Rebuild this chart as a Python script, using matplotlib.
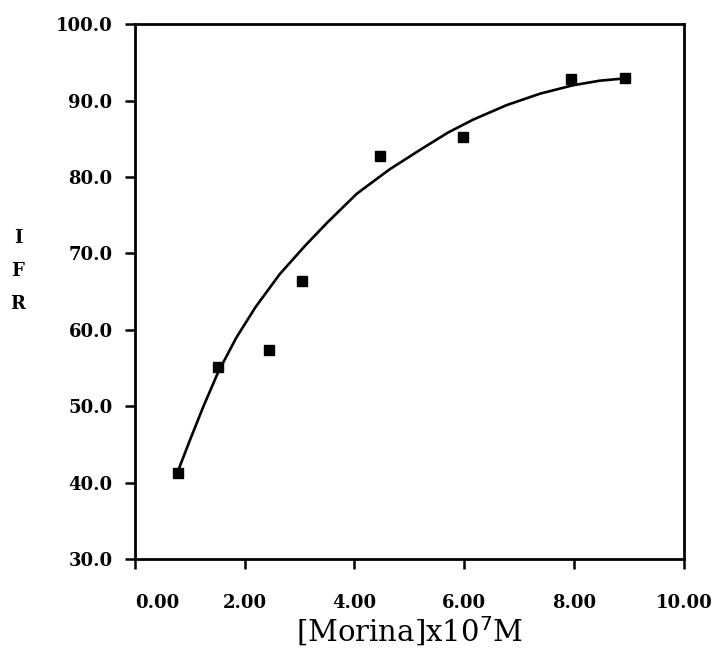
import matplotlib
matplotlib.use("Agg")
import matplotlib.pyplot as plt

# ---------------------------
# DATA
# ---------------------------

morina_conc = [0.78, 1.52, 2.45, 3.04, 4.46, 5.97, 7.94, 8.92]
ifr_values = [41.3, 55.2, 57.4, 66.4, 82.7, 85.2, 92.8, 92.9]

# fitted curve as drawn in the original
curve_x = [0.79, 1.00, 1.25, 1.52, 1.85, 2.20, 2.64, 3.10, 3.50, 4.04,
           4.64, 5.25, 5.70, 6.16, 6.77, 7.38, 7.98, 8.47, 8.93]
curve_y = [41.6, 45.5, 50.0, 54.5, 59.0, 63.0, 67.3, 71.0, 74.0, 77.8,
           81.0, 83.8, 85.8, 87.5, 89.4, 90.9, 92.0, 92.6, 92.9]

x_ticks = [0, 2, 4, 6, 8, 10]
x_tick_labels = ["0.00", "2.00", "4.00", "6.00", "8.00", "10.00"]
y_ticks = [30, 40, 50, 60, 70, 80, 90, 100]
y_tick_labels = ["30.0", "40.0", "50.0", "60.0", "70.0", "80.0", "90.0", "100.0"]

# ---------------------------
# PLOT
# ---------------------------

plt.rcParams["font.family"] = "DejaVu Serif"

fig = plt.figure(figsize=(7.17, 6.51), dpi=100)
ax = fig.add_axes([0.188, 0.141, 0.766, 0.822])

ax.plot(curve_x, curve_y, color="black", linewidth=1.9, solid_capstyle="round")
ax.plot(morina_conc, ifr_values, linestyle="none", marker="s",
        markersize=7, color="black")

ax.set_xlim(0, 10)
ax.set_ylim(30, 100)

ax.set_xticks(x_ticks)
ax.set_xticklabels(x_tick_labels, fontsize=13, fontweight="bold")
ax.set_yticks(y_ticks)
ax.set_yticklabels(y_tick_labels, fontsize=13, fontweight="bold")
ax.get_xticklabels()[0].set_horizontalalignment("left")

ax.tick_params(direction="out", length=7, width=1.8)
ax.tick_params(axis="x", pad=18)
ax.tick_params(axis="y", pad=9)

for side in ["left", "right", "top", "bottom"]:
    ax.spines[side].set_linewidth(2.0)

ax.set_xlabel(r"[Morina]x10$^7$M", fontsize=21, labelpad=2)

# vertical "IFR" label, letters stacked
for i, letter in enumerate(["I", "F", "R"]):
    fig.text(0.025, 1 - (238 + 33 * i) / 651, letter, fontsize=13,
             fontweight="bold", ha="center", va="center")

fig.savefig("out.png", dpi=100)
